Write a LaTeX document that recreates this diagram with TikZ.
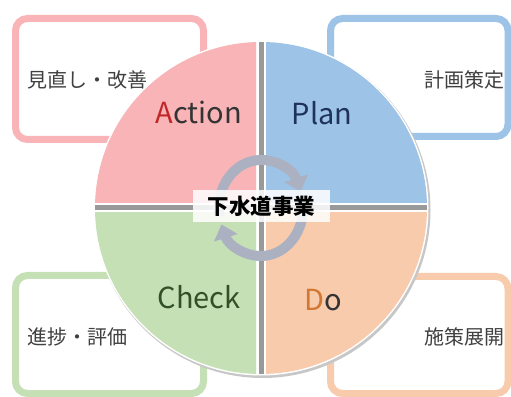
\documentclass[tikz,border=0pt]{standalone}
\usepackage{fontspec}
\setmainfont{Noto Sans CJK JP}
\usetikzlibrary{arrows.meta}
\definecolor{actpink}{RGB}{248,180,183}
\definecolor{planblue}{RGB}{157,195,230}
\definecolor{checkgreen}{RGB}{197,224,180}
\definecolor{dopeach}{RGB}{248,203,173}
\definecolor{actred}{RGB}{192,40,40}
\definecolor{planink}{RGB}{30,50,90}
\definecolor{checkink}{RGB}{50,80,40}
\definecolor{doorange}{RGB}{210,120,50}
\definecolor{cyclegray}{RGB}{172,177,194}
\begin{document}
\begin{tikzpicture}[x=1pt, y=1pt,
    panel/.style={line width=7pt, rounded corners=12pt, fill=white},
    note/.style={font=\fontsize{20}{20}\selectfont, text=black!75},
    bigword/.style={font=\fontsize{29}{29}\selectfont, text=black!80},
    cyclearrow/.style={draw=cyclegray, line width=10pt,
        -{Triangle[width=24pt, length=14pt]}},
    hub/.style={fill=white, fill opacity=0.85, text opacity=1,
        minimum width=137pt, minimum height=32pt, inner sep=0pt,
        font=\fontsize{21.5}{21.5}\selectfont\bfseries}
]
    \useasboundingbox (0,0) rectangle (511,396);
    % side boxes
    \draw[panel, draw=actpink] (15.5,256.5) rectangle (203.5,377.5);
    \draw[panel, draw=planblue] (330.5,259.5) rectangle (508,377.5);
    \draw[panel, draw=checkgreen] (15.5,120.5) rectangle (203.5,2.5);
    \draw[panel, draw=dopeach] (330.5,119.5) rectangle (508,2.5);
    \node[note, anchor=west] (improve) at (24,316) {見直し・改善};
    \node[note, anchor=east] (planning) at (508,316) {計画策定};
    \node[note, anchor=west] (review) at (24,59) {進捗・評価};
    \node[note, anchor=east] (rollout) at (508,59) {施策展開};
    % the circle
    \coordinate (c) at (261,188);
    \fill[black!22] (262.5,186) circle (168);
    \fill[white] (c) circle (167.5);
    \begin{scope}
        \clip (c) circle (166);
        \fill[black!40] (258.5,0) rectangle (263.5,396);
        \fill[black!40] (0,185.5) rectangle (511,190.5);
    \end{scope}
    \begin{scope}
        \clip (0,193) rectangle (256,396);
        \fill[actpink] (c) circle (166);
    \end{scope}
    \begin{scope}
        \clip (266,193) rectangle (511,396);
        \fill[planblue] (c) circle (166);
    \end{scope}
    \begin{scope}
        \clip (0,0) rectangle (256,183);
        \fill[checkgreen] (c) circle (166);
    \end{scope}
    \begin{scope}
        \clip (266,0) rectangle (511,183);
        \fill[dopeach] (c) circle (166);
    \end{scope}
    \node[bigword] (action) at (199,284) {{\color{actred}A}ction};
    \node[bigword, text=planink] (plan) at (322,283) {Plan};
    \node[bigword, text=checkink] (check) at (199,99) {Check};
    \node[bigword] (do) at (323,96) {{\color{doorange}D}o};
    % cycle arrows
    \draw[cyclearrow] ([shift={(190:42 and 48)}]c)
        arc[start angle=190, end angle=20, x radius=42, y radius=48];
    \draw[cyclearrow] ([shift={(5:42 and 48)}]c)
        arc[start angle=5, end angle=-160, x radius=42, y radius=48];
    \node[hub] (sewer) at (261.5,190) {下水道事業};
\end{tikzpicture}
\end{document}
